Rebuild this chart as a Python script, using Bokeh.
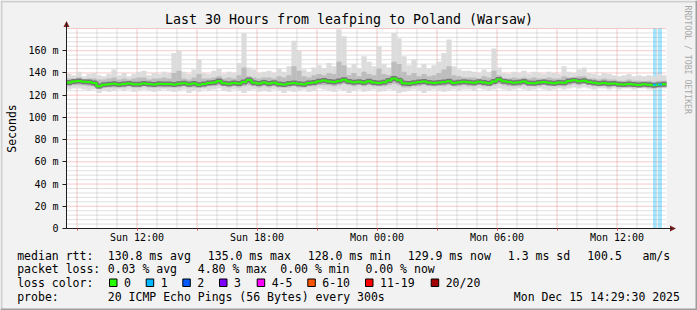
import math
from bokeh.plotting import figure
from bokeh.models import Range1d, Label, FixedTicker
from bokeh.embed import file_html
from bokeh.resources import INLINE

# ---------------- data ----------------
TITLE = "Last 30 Hours from leafping to Poland (Warsaw)"
HOURS = 30          # span of the graph (hours)
STEP_H = 0.25       # one sample = 15 minutes
Y_TOP = 180         # ms

median = [
    131.5, 132.3, 132.8, 132.0, 131.8, 130.9, 128.0, 129.3, 129.8, 130.2, 129.6, 130.0, 130.4, 129.8, 129.9, 130.6, 130.1, 129.5, 130.2, 130.0,
    130.0, 129.6, 130.3, 130.8, 129.9, 130.5, 129.4, 130.1, 130.9, 131.5, 132.8, 130.7, 130.2, 131.0, 130.4, 131.8, 133.6, 131.2, 130.5, 131.4,
    130.6, 131.2, 130.1, 129.6, 130.4, 131.0, 130.2, 129.8, 130.9, 131.5, 132.6, 133.1, 132.2, 131.8, 132.7, 133.8, 132.4, 131.6, 132.1, 131.3,
    132.5, 131.4, 130.9, 131.6, 133.2, 135.0, 133.5, 130.8, 130.4, 131.2, 131.9, 132.4, 131.5, 130.9, 131.3, 131.8, 132.6, 131.0, 131.6, 132.1,
    131.7, 131.2, 132.0, 131.5, 130.8, 132.3, 134.2, 132.6, 131.9, 131.2, 131.6, 132.3, 131.0, 130.7, 131.4, 131.9, 131.2, 130.8, 131.5, 131.1,
    132.8, 133.4, 132.6, 133.0, 131.9, 131.2, 130.6, 131.0, 130.2, 130.4, 129.8, 129.5, 130.0, 129.6, 129.2, 129.8, 129.4, 128.9, 129.3, 129.9,
]
ping_max = [
    139, 138, 141, 137, 139, 140, 138, 137, 139, 143, 138, 140, 137, 139, 141, 142, 138, 140, 139, 141,
    140, 158, 160, 141, 139, 143, 152, 140, 139, 142, 144, 139, 141, 140, 149, 176, 145, 143, 140, 141,
    142, 140, 144, 141, 146, 169, 160, 143, 141, 145, 147, 144, 149, 146, 179, 173, 145, 148, 144, 155,
    150, 146, 164, 148, 145, 176, 171, 155, 147, 152, 145, 148, 144, 147, 150, 158, 170, 146, 143, 142,
    142, 141, 140, 143, 141, 162, 145, 140, 139, 141, 140, 142, 139, 141, 140, 139, 141, 140, 139, 146,
    141, 140, 143, 145, 140, 139, 138, 140, 139, 138, 137, 138, 139, 137, 138, 137, 138, 137, 139, 138,
]
band_hi = [
    135, 135, 136, 134, 135, 135, 134, 134, 135, 136, 134, 135, 134, 135, 136, 136, 134, 135, 135, 136,
    135, 140, 142, 135, 134, 136, 139, 135, 135, 136, 137, 135, 136, 135, 138, 145, 137, 136, 135, 136,
    136, 135, 137, 136, 138, 146, 142, 137, 136, 138, 139, 138, 140, 139, 150, 147, 138, 140, 137, 141,
    139, 138, 144, 139, 138, 150, 148, 141, 138, 140, 137, 139, 137, 138, 140, 143, 146, 138, 137, 136,
    136, 136, 135, 137, 136, 142, 138, 135, 135, 136, 135, 136, 135, 136, 135, 135, 136, 135, 135, 137,
    136, 136, 137, 137, 135, 135, 134, 135, 134, 134, 133, 133, 134, 133, 133, 132, 133, 132, 133, 133,
]
band_lo = [
    128, 129, 129, 129, 128, 128, 126, 127, 127, 127, 127, 127, 128, 127, 127, 128, 127, 127, 127, 127,
    127, 127, 127, 128, 127, 127, 127, 127, 128, 128, 129, 128, 127, 128, 127, 128, 129, 128, 127, 128,
    127, 128, 127, 127, 127, 128, 127, 127, 128, 128, 129, 129, 129, 128, 129, 130, 129, 128, 129, 128,
    129, 128, 128, 128, 129, 130, 129, 127, 127, 128, 128, 129, 128, 128, 128, 128, 129, 128, 128, 129,
    128, 128, 129, 128, 128, 129, 130, 129, 128, 128, 128, 129, 128, 128, 128, 129, 128, 128, 128, 128,
    129, 130, 129, 130, 129, 128, 128, 128, 127, 128, 127, 127, 127, 127, 127, 127, 127, 126, 127, 127,
]
ping_min = [
    125, 126, 126, 125, 124, 125, 122, 124, 123, 124, 125, 124, 125, 123, 124, 125, 124, 123, 124, 125,
    124, 123, 124, 125, 122, 124, 123, 125, 124, 125, 126, 124, 123, 125, 124, 122, 124, 125, 123, 124,
    123, 125, 124, 122, 124, 123, 124, 125, 123, 124, 126, 125, 124, 123, 125, 124, 122, 124, 125, 123,
    124, 125, 123, 124, 125, 124, 122, 123, 124, 125, 124, 122, 124, 125, 124, 123, 124, 125, 124, 125,
    125, 124, 126, 125, 124, 125, 126, 125, 124, 125, 126, 125, 124, 125, 126, 125, 124, 125, 126, 125,
    126, 127, 126, 127, 126, 125, 126, 126, 125, 126, 125, 126, 126, 125, 126, 126, 125, 125, 126, 126,
]
# packet-loss periods (hours from start) with 1/20 lost
loss_start_h = [29.325, 29.575]
loss_end_h = [29.50, 29.775]
loss_median = [129.3, 129.6]

x_tick_h = [3.525, 9.525, 15.525, 21.525, 27.525]
x_tick_labels = ["Sun 12:00", "Sun 18:00", "Mon 00:00", "Mon 06:00", "Mon 12:00"]
y_ticks = [0, 20, 40, 60, 80, 100, 120, 140, 160]
y_tick_labels = ["0", "20 m", "40 m", "60 m", "80 m", "100 m", "120 m", "140 m", "160 m"]

rtt_stats = ["130.8 ms avg", "135.0 ms max", "128.0 ms min", "129.9 ms now", "1.3 ms sd", "100.5", "am/s"]
loss_stats = ["0.03 % avg", "4.80 % max", "0.00 % min", "0.00 % now"]
loss_names = ["0", "1", "2", "3", "4-5", "6-10", "11-19", "20/20"]
loss_colors = ["#26ff00", "#00b8ff", "#0059ff", "#7e00ff", "#ff00ff", "#ff5500", "#ff0000", "#a10000"]
probe_text = "20 ICMP Echo Pings (56 Bytes) every 300s"
stamp_text = "Mon Dec 15 14:29:30 2025"

# ---------------- layout ----------------
W, H = 697, 310
X0, Y0 = 66, 228                 # pixel position of the graph origin
PX_H = 20.0                      # px per hour
PX_MS = 200.0 / Y_TOP            # px per ms


def X(px):
    return (px - X0) / PX_H


def Y(py):
    return (Y0 - py) / PX_MS


MONO = "DejaVu Sans Mono"

# the frame covers the whole canvas; axes are pinned at the origin
p = figure(width=W, height=H, x_range=Range1d(X(0), X(W)), y_range=Range1d(Y(H), Y(0)),
           output_backend="svg", toolbar_location=None,
           min_border=0, min_border_left=0, min_border_right=0, min_border_top=0, min_border_bottom=0,
           background_fill_color="#f2f2f2", border_fill_color="#f2f2f2", outline_line_color=None)
p.xgrid.visible = False
p.ygrid.visible = False

# 3D border
p.quad(left=[X(0), X(0)], right=[X(W), X(2)], top=[Y(0), Y(0)], bottom=[Y(2), Y(H)],
       fill_color="#cfcfcf", line_color=None)
p.quad(left=[X(0), X(W - 2)], right=[X(W), X(W)], top=[Y(H - 2), Y(0)], bottom=[Y(H), Y(H)],
       fill_color="#9e9e9e", line_color=None)

# canvas
p.quad(left=[0], right=[HOURS], bottom=[0], top=[Y_TOP], fill_color="white", line_color=None)

# grid
hour_lines = [x_tick_h[0] - 3 + k for k in range(HOURS + 1) if x_tick_h[0] - 3 + k <= HOURS]
major_h = [h for k, h in enumerate(hour_lines) if k % 3 == 0]
minor_h = [h for k, h in enumerate(hour_lines) if k % 3 != 0]
major_ms = list(range(20, Y_TOP + 1, 20))
minor_ms = [v for v in range(4, Y_TOP, 4) if v % 20 != 0]
grey = dict(line_color="#8f8f8f", line_alpha=0.55, line_width=1, line_dash="1 1")
red = dict(line_color="#de5050", line_alpha=0.6, line_width=1, line_dash="1 1")
p.segment(x0=minor_h, x1=minor_h, y0=[0] * len(minor_h), y1=[Y_TOP] * len(minor_h), **grey)
p.segment(x0=[0] * len(minor_ms), x1=[HOURS] * len(minor_ms), y0=minor_ms, y1=minor_ms, **grey)
p.segment(x0=major_h, x1=major_h, y0=[0] * len(major_h), y1=[Y_TOP] * len(major_h), **red)
p.segment(x0=[0] * len(major_ms), x1=[HOURS] * len(major_ms), y0=major_ms, y1=major_ms, **red)

# loss stripes
p.quad(left=loss_start_h, right=loss_end_h, bottom=[0] * len(loss_start_h), top=[Y_TOP] * len(loss_start_h),
       fill_color="#00b8ff", fill_alpha=0.35, line_color=None)

# smoke
starts = [i * STEP_H for i in range(len(median))]
centers = [s + STEP_H / 2 for s in starts]
p.vbar(x=centers, width=STEP_H * 1.04, bottom=ping_min, top=ping_max, fill_color="#dcdcdc", line_color=None)
p.vbar(x=centers, width=STEP_H * 1.04, bottom=band_lo, top=band_hi, fill_color="#bdbdbd", line_color=None)

step_x, step_y = [], []
for s, v in zip(starts, median):
    step_x += [s, s + STEP_H]
    step_y += [v, v]
p.line(step_x, step_y, line_color="#333333", line_alpha=0.5, line_width=5)
p.line(step_x, step_y, line_color="#26ff00", line_width=2)
p.segment(x0=loss_start_h, x1=loss_end_h, y0=loss_median, y1=loss_median, line_color="#00b8ff", line_width=2)

# axes (pinned at the origin, inside the full-canvas frame)
ya = p.yaxis[0]
ya.fixed_location = 0
ya.bounds = (0, Y(22))
ya.ticker = FixedTicker(ticks=y_ticks)
ya.major_label_overrides = {t: s for t, s in zip(y_ticks, y_tick_labels)}
ya.major_label_text_font = MONO
ya.major_label_text_font_size = "10px"
ya.major_label_text_color = "#000000"
ya.major_tick_out = 4
ya.major_tick_in = 0
ya.minor_tick_out = 0
ya.minor_tick_in = 0
ya.major_label_standoff = 4
ya.axis_line_color = "#1f1f1f"
ya.major_tick_line_color = "#1f1f1f"

xa = p.xaxis[0]
xa.fixed_location = 0
xa.bounds = (0, X(672))
xa.ticker = FixedTicker(ticks=x_tick_h, minor_ticks=major_h)
xa.major_label_overrides = {t: s for t, s in zip(x_tick_h, x_tick_labels)}
xa.major_label_text_font = MONO
xa.major_label_text_font_size = "10px"
xa.major_label_text_color = "#000000"
xa.major_tick_out = 2
xa.major_tick_in = 0
xa.minor_tick_out = 2
xa.minor_tick_in = 0
xa.major_label_standoff = 1
xa.axis_line_color = "#1f1f1f"
xa.major_tick_line_color = "#de5050"
xa.minor_tick_line_color = "#de5050"

# arrow heads
p.patches(xs=[[X(63), X(69), X(66)], [X(669.5), X(669.5), X(675.5)]],
          ys=[[Y(26.5), Y(26.5), Y(20.5)], [Y(225), Y(231), Y(228)]],
          fill_color="#801f1f", line_color=None)


def lab(px, py, text, size="11.5px", align="left", color="#000000", angle=0.0):
    p.add_layout(Label(x=X(px), y=Y(py), text=text, text_font=MONO, text_font_size=size,
                       text_align=align, text_baseline="middle", text_color=color, angle=angle))


lab(348.5, 19, TITLE, size="13.3px", align="center")
lab(11, 128, "Seconds", align="center", angle=math.pi / 2)
lab(687.5, 5, "RRDTOOL / TOBI OETIKER", size="8.2px", color="#a8a8a8", angle=-math.pi / 2)

ROW = [255, 268.3, 282.3, 296]
lab(16.7, ROW[0], "median rtt:")
for px, t in zip([107.3, 207.3, 307.3, 407.3, 507.3, 586.7, 642], rtt_stats):
    lab(px, ROW[0], t)
lab(16.7, ROW[1], "packet loss:")
for px, t in zip([107.3, 197.3, 279.8, 365], loss_stats):
    lab(px, ROW[1], t)
lab(16.7, ROW[2], "loss color:")
box_x = [109, 145.7, 182.3, 219, 256.7, 307.3, 365, 430.7]
p.quad(left=[X(b) for b in box_x], right=[X(b + 7.5) for b in box_x],
       top=[Y(278.5)] * len(box_x), bottom=[Y(286)] * len(box_x),
       fill_color=loss_colors, line_color="#000000", line_width=1)
for bx, t in zip(box_x, loss_names):
    lab(bx + 14.5, ROW[2], t)
lab(16.7, ROW[3], "probe:")
lab(107.3, ROW[3], probe_text)
lab(513.3, ROW[3], stamp_text)

open("out.html", "w").write(file_html(p, INLINE))
